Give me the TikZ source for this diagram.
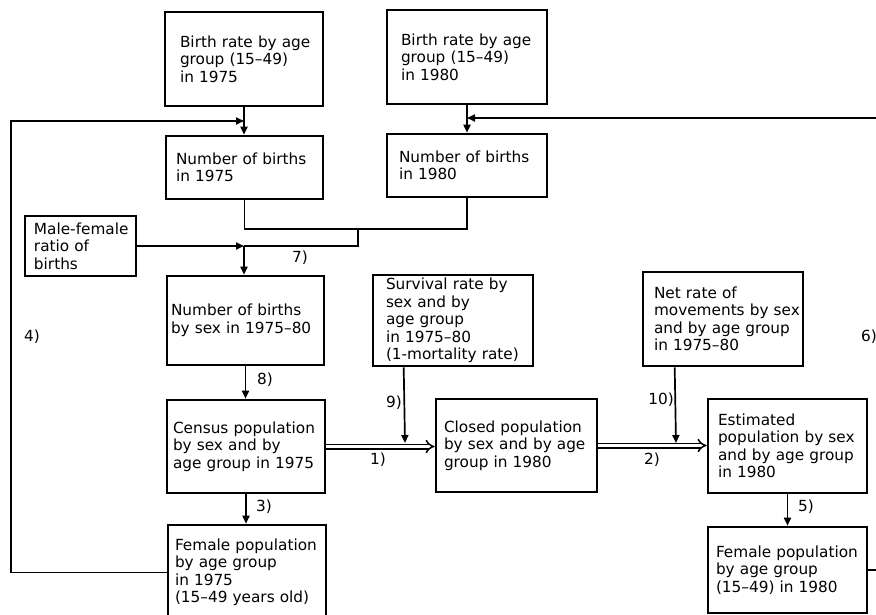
\documentclass[tikz,border=0pt]{standalone}
\usepackage{fontspec}
\setmainfont{DejaVu Sans}
\usetikzlibrary{arrows.meta}
\begin{document}
\begin{tikzpicture}[x=1pt,y=-1pt,
  box/.style={draw, line width=2.6pt, inner sep=0pt, align=left,
    font=\fontsize{15.3}{17.5}\selectfont},
  lpad/.style={execute at begin node={\leftskip=#1pt}},
  link/.style={line width=1.7pt},
  arr/.style={link, -{Triangle[length=8pt,width=7pt]}},
  flow/.style={line width=1.5pt, double, double distance=3pt,
    -{Implies[length=7pt]}},
  tag/.style={font=\fontsize{15.3}{17.5}\selectfont, inner sep=0pt}]
\useasboundingbox (0,0) rectangle (876,615);

% boxes
\node[box, text width=158pt, minimum height=94pt, lpad=15] (b75) at (244,59)
  {Birth rate by age\\group (15–49)\\in 1975};
\node[box, text width=160pt, minimum height=94pt, lpad=14] (b80) at (467,57)
  {Birth rate by age\\group (15–49)\\in 1980};
\node[box, text width=157pt, minimum height=63pt, lpad=10] (n75) at (244.5,167.5)
  {Number of births\\in 1975};
\node[box, text width=160pt, minimum height=63pt, lpad=12] (n80) at (467,165.5)
  {Number of births\\in 1980};
\node[box, text width=111pt, minimum height=60pt, lpad=9] (mf) at (80.5,246)
  {Male-female\\ratio of\\births};
\node[box, text width=157pt, minimum height=89pt, lpad=4] (nb) at (245.5,320.5)
  {Number of births\\by sex in 1975–80};
\node[box, text width=160pt, minimum height=91pt, lpad=13] (sr) at (453,320.5)
  {Survival rate by\\sex and by\\age group\\in 1975–80\\(1-mortality rate)};
\node[box, text width=160pt, minimum height=94pt, lpad=11] (nr) at (723,319)
  {Net rate of\\movements by sex\\and by age group\\in 1975–80};
\node[box, text width=158pt, minimum height=93pt, lpad=6] (c) at (246,446.5)
  {Census population\\by sex and by\\age group in 1975};
\node[box, text width=161pt, minimum height=93pt, lpad=8] (cp) at (516.5,445.5)
  {Closed population\\by sex and by age\\group in 1980};
\node[box, text width=159pt, minimum height=94pt, lpad=10] (ep) at (787.5,446)
  {Estimated\\population by sex\\and by age group\\in 1980};
\node[box, text width=158pt, minimum height=95pt, lpad=7] (f75) at (247,572.5)
  {Female population\\by age group\\in 1975\\(15–49 years old)};
\node[box, text width=159pt, minimum height=86pt, lpad=8] (f80) at (787.5,570)
  {Female population\\by age group\\(15–49) in 1980};

% junction points
\coordinate (j75) at (244,121);
\coordinate (j80) at (467,118);
\coordinate (c4) at (11,121);
\coordinate (c6) at (877,118);
\coordinate (m1) at (358,229);
\coordinate (m2) at (244,246);
\coordinate (j1) at (405,443);
\coordinate (j2) at (676,443);

% births
\draw[arr] (b75.south) -- (b75.south |- n75.north);
\draw[arr] (b80.south) -- (b80.south |- n80.north);
\draw[link] (n75.south) |- (m1);
\draw[link] (n80.south) |- (m1);
\draw[link] (m1) |- (m2);
\draw[arr] (mf.east) -- (m2);
\draw[arr] (m2) -- (m2 |- nb.north);
\draw[arr] (nb.south) -- (nb.south |- c.north);

% feedback loops
\draw[arr] (f75.west) -| (c4) -- (j75);
\draw[arr] (f80.east) -| (c6) -- (j80);

% population projection
\draw[flow] (c.east) -- (c.east -| cp.west);
\draw[flow] (cp.east) -- (cp.east -| ep.west);
\draw[arr] ([xshift=32pt]sr.south west) -- (j1);
\draw[arr] ([xshift=33pt]nr.south west) -- (j2);
\draw[arr] (c.south) -- (c.south |- f75.north);
\draw[arr] (ep.south) -- (ep.south |- f80.north);

% step numbers
\node[tag] (t1) at (378,460) {1)};
\node[tag] (t2) at (652,460) {2)};
\node[tag] (t3) at (264,507) {3)};
\node[tag] (t4) at (32,337) {4)};
\node[tag] (t5) at (806,507) {5)};
\node[tag, anchor=west] (t6) at (861,337) {6)};
\node[tag] (t7) at (300,258) {7)};
\node[tag] (t8) at (265,380) {8)};
\node[tag, anchor=east] (t9) at (402,403) {9)};
\node[tag, anchor=east] (t10) at (674,400) {10)};
\end{tikzpicture}
\end{document}
